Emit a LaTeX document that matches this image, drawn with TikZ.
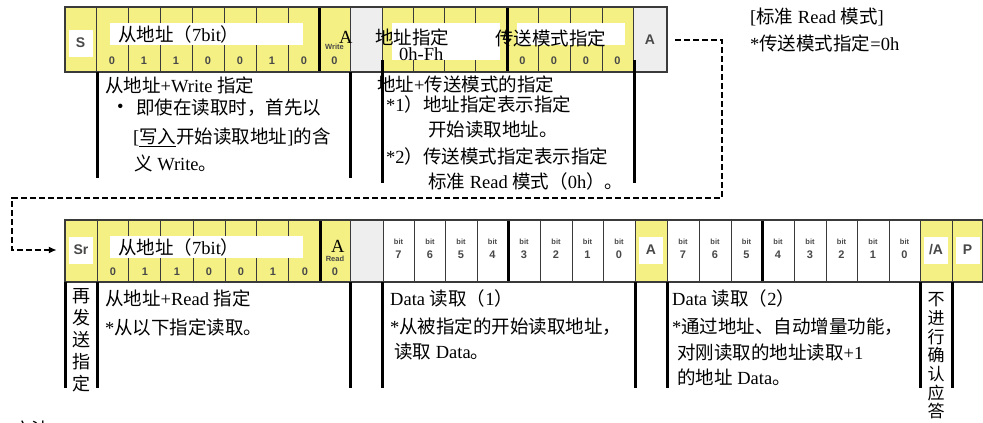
\documentclass[tikz,border=0pt]{standalone}
\usepackage{fontspec}
\setmainfont{Liberation Serif}
\newfontfamily\zhfont{Noto Sans CJK SC}
\newfontfamily\arialfont{Liberation Sans}
\newcommand\zh[1]{{\zhfont #1}}
\definecolor{cellyellow}{HTML}{F4F083}
\definecolor{cellgray}{HTML}{EEEEEE}
\definecolor{tagtext}{HTML}{484848}
\definecolor{framedark}{HTML}{3A3A3A}
\newcommand\tagfont{\arialfont\bfseries\fontsize{14}{14}\selectfont}
\newcommand\bitfont{\arialfont\bfseries\fontsize{11}{11}\selectfont}
\newcommand\tinyfont{\arialfont\bfseries\fontsize{7.5}{7.5}\selectfont}
\usetikzlibrary{arrows.meta}

\begin{document}
\begin{tikzpicture}[x=1pt,y=-1pt,
    txt/.style={anchor=west,inner sep=0pt,font=\fontsize{18.5}{22}\selectfont},
    tagbox/.style={fill=white,inner sep=0pt,minimum width=24,minimum height=27,text=tagtext,font=\tagfont},
    bitnum/.style={inner sep=0pt,text=tagtext,font=\bitfont},
    bitlbl/.style={inner sep=0pt,text=tagtext,font=\tinyfont},
    thinrule/.style={draw=framedark,line width=0.8},
    thickrule/.style={draw=black,line width=3},
    framerule/.style={draw=framedark,line width=1.2},
    loopline/.style={draw=black,line width=2.8,dash pattern=on 6pt off 3pt,-{Latex[length=8pt,width=7pt]}}]
  \useasboundingbox (0,0) rectangle (983,423);

  % write frame
  \fill[cellyellow] (65,7) rectangle (350,72);
  \fill[cellgray] (350,7) rectangle (382,72);
  \fill[cellyellow] (382,7) rectangle (633,72);
  \fill[cellgray] (633,7) rectangle (667,72);
  \foreach \x in {96,128,...,288,350,382,413,444,475,538,570,602,633}
    \draw[thinrule] (\x,7) -- (\x,72);
  \foreach \x in {319,507}
    \draw[thickrule] (\x,7) -- (\x,72);
  \draw[framerule] (65,7) rectangle (667,72);

  \fill[white] (110,23) rectangle (303,45);
  \fill[white] (392,23) rectangle (500,60);
  \fill[white] (517,23) rectangle (625,45);
  \node[txt] (waddr) at (118,34) {\zh{从地址（}7bit\zh{）}};
  \node[txt] (wacktxt) at (339,37) {A};
  \node[txt] (regaddr) at (375,37) {\zh{地址指定}};
  \node[txt] (regrange) at (399,54) {0h-Fh};
  \node[txt] (modetxt) at (495,38) {\zh{传送模式指定}};

  \node[tagbox] (s) at (80.5,43) {S};
  \node[tagbox,fill=cellgray] (atop) at (650,40) {A};
  \foreach \v [count=\i] in {0,1,1,0,0,1,0}
    \node[bitnum] (wb\i) at (80+32*\i,61) {\v};
  \node[bitlbl] (wlab) at (334.5,47) {Write};
  \node[bitnum] (wbit) at (334.5,61) {0};
  \foreach \x [count=\i] in {522.5,554,586,617.5}
    \node[bitnum] (mb\i) at (\x,61) {0};

  % brackets under the write frame
  \foreach \x in {97,350}
    \draw[thickrule] (\x,72) -- (\x,178);
  \foreach \x in {382,634}
    \draw[thickrule] (\x,60) -- (\x,183);

  \node[txt] (wnote1) at (105,85) {\zh{从地址}+Write \zh{指定}};
  \node[txt] (wbullet) at (117,108) {\textbullet};
  \node[txt] (wnote2) at (136,108) {\zh{即使在读取时，首先以}};
  \node[txt] (wnote3) at (133,137) {[\underline{\zh{写入}}\zh{开始读取地址}]\zh{的含}};
  \node[txt] (wnote4) at (134,163) {\zh{义} Write\zh{。}};

  \node[txt] (rnote1) at (377,84) {\zh{地址}+\zh{传送模式的指定}};
  \node[txt] (rnote2) at (386,104) {*1\zh{）地址指定表示指定}};
  \node[txt] (rnote3) at (428,130) {\zh{开始读取地址。}};
  \node[txt] (rnote4) at (386,156) {*2\zh{）传送模式指定表示指定}};
  \node[txt] (rnote5) at (428,181) {\zh{标准} Read \zh{模式（}0h\zh{）。}};

  \node[txt] (mode1) at (750,17) {[\zh{标准} Read \zh{模式}]};
  \node[txt] (mode2) at (750,43) {*\zh{传送模式指定}=0h};

  % read frame
  \fill[cellyellow] (65,220) rectangle (350,282);
  \fill[cellgray] (350,220) rectangle (383,282);
  \fill[white] (383,220) rectangle (635,282);
  \fill[cellyellow] (635,220) rectangle (667,282);
  \fill[white] (667,220) rectangle (920,282);
  \fill[cellyellow] (920,220) rectangle (982.5,282);
  \foreach \x in {97,128,160,193,225,256,288,350,383,414,445,477,540,572,603,635,667,699,731,794,826,857,889,920,952}
    \draw[thinrule] (\x,220) -- (\x,282);
  \foreach \x in {320,508,762}
    \draw[thickrule] (\x,220) -- (\x,282);
  \draw[framerule] (65,220) rectangle (982.5,282);

  \fill[white] (110,236) rectangle (303,258);
  \node[txt] (raddr) at (118,247) {\zh{从地址（}7bit\zh{）}};
  \node[txt] (racktxt) at (331,246) {A};

  \node[tagbox] (sr) at (81,250) {Sr};
  \foreach \v [count=\i] in {0,1,1,0,0,1,0}
    \node[bitnum] (rb\i) at (81+32*\i,272) {\v};
  \node[bitlbl] (rlab) at (335,259) {Read};
  \node[bitnum] (rbit) at (335,272) {0};
  \foreach \x [count=\i] in {398.5,430,461,492.5,524,556,587.5,619} {
    \pgfmathtruncatemacro\b{8-\i}
    \node[bitlbl] (dalbl\i) at (\x,242) {bit};
    \node[bitnum] (danum\i) at (\x,255) {\b};
  }
  \node[tagbox] (ack) at (651,250) {A};
  \foreach \x [count=\i] in {683,715,746.5,778,810,841.5,873,904.5} {
    \pgfmathtruncatemacro\b{8-\i}
    \node[bitlbl] (dblbl\i) at (\x,242) {bit};
    \node[bitnum] (dbnum\i) at (\x,255) {\b};
  }
  \node[tagbox] (nack) at (936,250) {/A};
  \node[tagbox] (p) at (967.5,250) {P};

  % brackets under the read frame
  \foreach \x in {65,97,350,382,635,667,920,952}
    \draw[thickrule] (\x,282) -- (\x,388);

  \node[align=center,inner sep=0pt,font=\zhfont\fontsize{18}{22}\selectfont] (resend) at (81,340) {再\\发\\送\\指\\定};
  \node[align=center,inner sep=0pt,font=\zhfont\fontsize{17}{18.7}\selectfont] (noack) at (936,356) {不\\进\\行\\确\\认\\应\\答};

  \node[txt] (bnote1) at (105,298) {\zh{从地址}+Read \zh{指定}};
  \node[txt] (bnote2) at (105,327) {*\zh{从以下指定读取。}};
  \node[txt] (d1note1) at (390,298) {Data \zh{读取（}1\zh{）}};
  \node[txt] (d1note2) at (390,327) {*\zh{从被指定的开始读取地址，}};
  \node[txt] (d1note3) at (394,352) {\zh{读取} Data\zh{。}};
  \node[txt] (d2note1) at (672,298) {Data \zh{读取（}2\zh{）}};
  \node[txt] (d2note2) at (672,327) {*\zh{通过地址、自动增量功能，}};
  \node[txt] (d2note3) at (677,352) {\zh{对刚读取的地址读取}+1};
  \node[txt] (d2note4) at (677,377) {\zh{的地址} Data\zh{。}};

  \node[txt] (method) at (13,429) {\zh{方法}};

  % repeated start link
  \coordinate (rbend) at (722,198);
  \coordinate (lbend) at (12,198);
  \draw[loopline] ([xshift=13pt]atop.east) -| (rbend) -- (lbend) |- ([xshift=-12pt]sr.west);
\end{tikzpicture}
\end{document}
